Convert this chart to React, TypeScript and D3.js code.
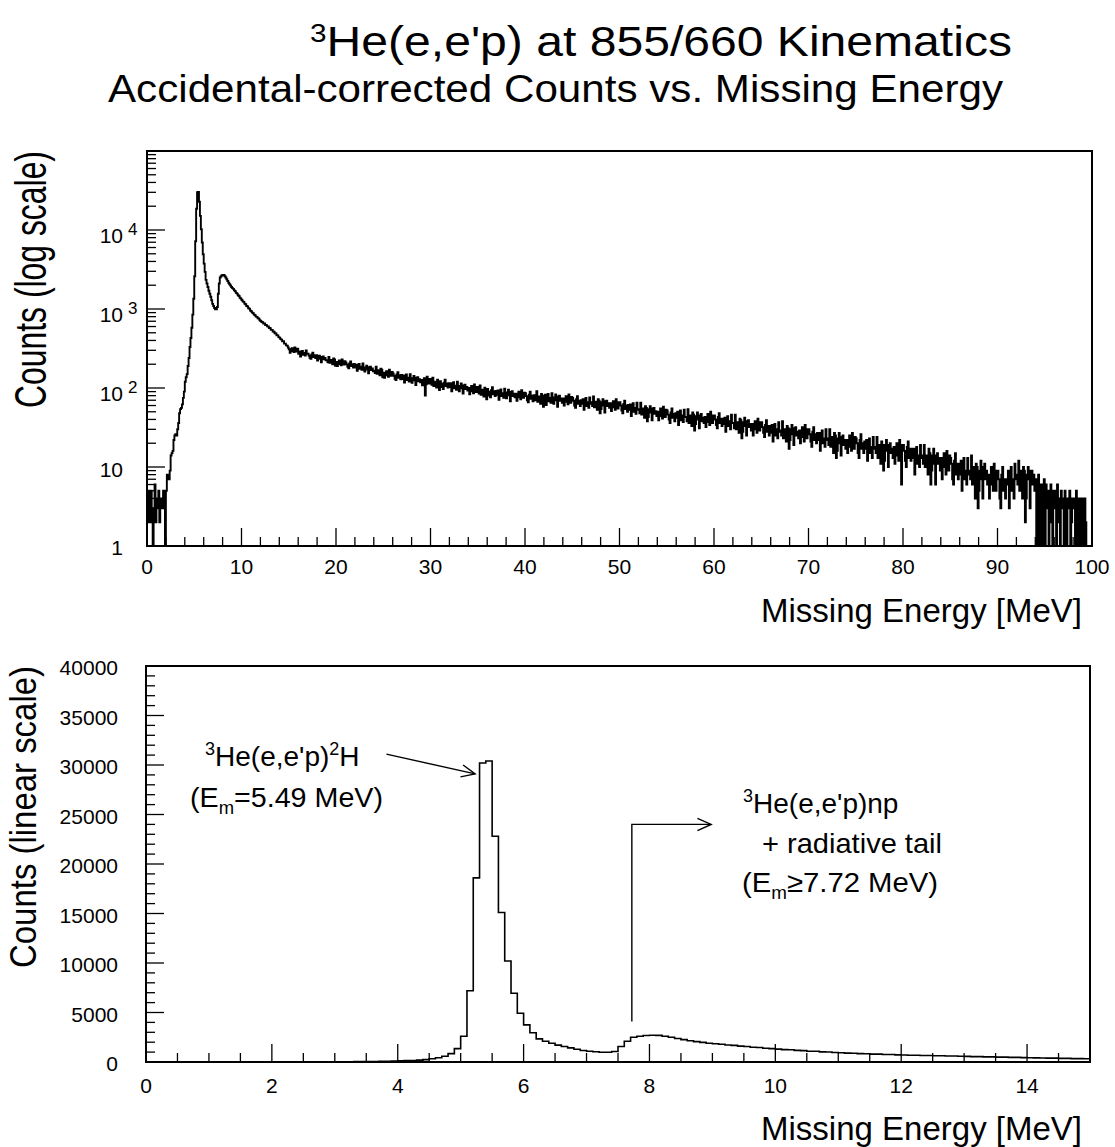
import React from 'react';
import * as d3 from 'd3';

const W = 1115;
const H = 1147;
const FONT = '"Liberation Sans", Arial, Helvetica, sans-serif';

// ---- data: accidental-corrected counts, 0.1 MeV bins ----
const binWidth = 0.1;

// 0-15 MeV (shared by both panels)
const lowCounts = [
  3, 5, 2, 4, 5, 2, 0, 3, 6, 2,
  4, 3, 5, 2, 4, 4, 3, 5, 4, 0,
  5, 8, 8, 7, 9, 14, 15, 16, 22, 25,
  26, 25, 30, 36, 48, 54, 56, 62, 75, 90,
  120, 137, 150, 190, 240, 330, 430, 580, 850, 1350,
  2600, 7200, 18600, 30200, 30400, 22800, 15100, 10200, 6950, 4930,
  3750, 2950, 2340, 2100, 1900, 1700, 1560, 1430, 1290, 1160,
  1090, 1030, 990, 990, 1060, 1560, 2100, 2500, 2600, 2680,
  2700, 2690, 2600, 2500, 2380, 2260, 2150, 2060, 1980, 1900,
  1840, 1800, 1720, 1680, 1600, 1565, 1490, 1460, 1390, 1355,
  1300, 1250, 1230, 1170, 1150, 1090, 1080, 1020, 1010, 955,
  935, 900, 885, 850, 835, 800, 795, 765, 755, 720,
  705, 685, 680, 655, 655, 628, 625, 603, 600, 575,
  570, 545, 545, 520, 515, 494, 490, 465, 464, 440,
  434, 415, 410, 390, 390, 365, 364, 346, 344, 326,
];

// 15-100 MeV tail (log panel only)
const tailStart = 15;
const tailCounts = [
  309, 280, 305, 319, 293, 285, 327, 300, 290, 314,
  270, 290, 250, 282, 295, 263, 277, 257, 298, 272,
  271, 258, 242, 234, 265, 279, 247, 260, 239, 261,
  222, 245, 257, 234, 212, 248, 251, 231, 240, 225,
  224, 212, 248, 208, 227, 217, 200, 236, 230, 191,
  214, 190, 211, 223, 201, 194, 230, 207, 198, 219,
  210, 199, 185, 178, 204, 217, 189, 200, 182, 202,
  181, 197, 165, 190, 201, 175, 186, 170, 204, 182,
  161, 181, 191, 171, 153, 183, 186, 169, 177, 163,
  166, 155, 186, 151, 168, 159, 145, 176, 171, 137,
  156, 135, 154, 163, 145, 139, 170, 150, 143, 160,
  153, 143, 131, 126, 148, 159, 135, 145, 129, 146,
  130, 144, 117, 139, 148, 126, 135, 121, 150, 132,
  116, 133, 142, 125, 109, 135, 137, 122, 129, 118,
  126, 108, 124, 133, 80, 111, 139, 121, 114, 130,
  118, 110, 135, 106, 120, 113, 101, 127, 122, 94,
  122, 113, 103, 97, 117, 127, 106, 114, 101, 115,
  103, 115, 91, 110, 118, 99, 107, 95, 120, 104,
  91, 106, 114, 99, 85, 108, 110, 97, 103, 93,
  100, 83, 98, 106, 91, 86, 111, 95, 89, 103,
  93, 85, 108, 82, 95, 88, 78, 101, 97, 72,
  97, 90, 80, 76, 94, 102, 83, 91, 79, 92,
  82, 93, 71, 89, 96, 79, 86, 75, 98, 83,
  74, 88, 95, 81, 68, 89, 91, 79, 85, 76,
  85, 69, 83, 90, 76, 72, 94, 80, 75, 87,
  86, 79, 70, 66, 82, 90, 73, 80, 68, 81,
  77, 70, 91, 67, 78, 72, 63, 84, 80, 58,
  71, 82, 61, 77, 84, 68, 75, 65, 86, 72,
  63, 76, 83, 70, 58, 78, 80, 69, 74, 65,
  74, 60, 73, 79, 67, 62, 83, 70, 65, 77,
  75, 69, 60, 56, 72, 79, 63, 69, 59, 70,
  63, 72, 53, 68, 75, 59, 66, 56, 76, 63,
  66, 59, 78, 57, 67, 62, 53, 72, 69, 48,
  54, 66, 72, 60, 49, 68, 69, 59, 64, 56,
  64, 51, 62, 68, 57, 53, 72, 60, 55, 66,
  66, 60, 52, 48, 63, 69, 54, 60, 50, 61,
  53, 62, 44, 58, 64, 50, 56, 47, 65, 54,
  53, 48, 65, 46, 55, 50, 42, 59, 56, 38,
  43, 54, 59, 49, 39, 55, 56, 47, 51, 44,
  50, 39, 49, 55, 44, 41, 58, 47, 43, 53,
  52, 46, 40, 36, 49, 55, 42, 47, 38, 48,
  42, 50, 34, 47, 52, 39, 45, 37, 53, 43,
  43, 38, 54, 36, 45, 40, 33, 49, 46, 29,
  35, 44, 49, 40, 31, 45, 47, 38, 42, 36,
  43, 32, 42, 47, 37, 34, 50, 40, 36, 45,
  45, 40, 34, 31, 43, 48, 36, 41, 33, 41,
  35, 42, 28, 39, 44, 33, 38, 30, 46, 36,
  36, 31, 46, 30, 37, 33, 27, 41, 39, 23,
  28, 37, 42, 33, 25, 38, 39, 32, 35, 29,
  35, 25, 34, 38, 30, 27, 41, 32, 29, 37,
  37, 32, 27, 24, 34, 39, 28, 33, 25, 33,
  27, 34, 21, 31, 35, 25, 30, 23, 37, 28,
  29, 25, 38, 23, 30, 26, 21, 33, 31, 17,
  22, 30, 34, 26, 19, 31, 32, 25, 28, 23,
  29, 20, 28, 32, 24, 21, 34, 26, 23, 30,
  30, 26, 21, 18, 28, 32, 22, 26, 20, 27,
  22, 27, 16, 25, 29, 20, 23, 18, 30, 22,
  23, 19, 30, 18, 24, 21, 15, 27, 25, 13,
  16, 23, 27, 20, 14, 24, 25, 19, 22, 17,
  22, 15, 21, 25, 18, 16, 27, 20, 17, 24,
  23, 20, 15, 13, 22, 26, 17, 20, 15, 21,
  17, 22, 12, 20, 23, 15, 18, 13, 24, 17,
  18, 15, 24, 13, 19, 16, 11, 21, 19, 9,
  12, 19, 22, 16, 10, 19, 20, 15, 17, 13,
  18, 11, 17, 20, 14, 12, 22, 16, 6, 19,
  19, 16, 12, 10, 18, 21, 13, 17, 12, 17,
  13, 17, 8, 15, 18, 11, 14, 10, 19, 13,
  14, 11, 19, 10, 14, 12, 8, 17, 15, 6,
  9, 14, 17, 11, 6, 14, 15, 11, 13, 9,
  13, 7, 12, 15, 10, 8, 16, 11, 9, 14,
  13, 11, 7, 6, 12, 15, 8, 11, 7, 11,
  8, 12, 5, 10, 13, 7, 9, 6, 13, 8,
  9, 7, 14, 6, 10, 8, 4, 11, 10, 3,
  5, 9, 12, 7, 4, 10, 11, 7, 9, 6,
  8, 4, 8, 10, 6, 5, 11, 7, 5, 9,
  9, 7, 4, 3, 8, 10, 5, 7, 4, 7,
  6, 9, 3, 8, 10, 5, 7, 4, 11, 7,
  8, 6, 12, 5, 9, 7, 4, 10, 9, 2,
  4, 8, 10, 7, 3, 9, 9, 6, 8, 5,
  7, 0, 5, 8, 0, 4, 6, 1, 5, 7,
  0, 6, 3, 5, 0, 2, 6, 4, 0, 5,
  5, 3, 0, 6, 4, 2, 0, 5, 3, 4,
  0, 5, 3, 0, 4, 3, 5, 0, 2, 4,
  3, 4, 0, 5, 2, 0, 4, 3, 0, 4,
  3, 0, 4, 2, 0, 0, 0, 0, 0, 0,
];

// ---- axis ticks ----
const topXMajor = d3.range(0, 101, 10);
const topXMinor = d3.range(0, 101, 2);
const topYDecades = [0, 1, 2, 3, 4];
const topYMinorMult = [2, 3, 4, 5, 6, 7, 8, 9];
const botXMajor = d3.range(0, 15, 2);
const botXMinor = d3.range(0, 15.001, 0.5);
const botYMajor = d3.range(0, 40001, 5000);
const botYMinor = d3.range(0, 40001, 1000);

// ---- annotation anchors (data coords) ----
const peakLabelArrow = { from: [3.82, 31100], to: [5.23, 29100] };
const npThreshold = 7.72;
const npArrow = { yLow: 4100, yHigh: 24000, xEnd: 8.98 };

// ---- geometry ----
const top = { l: 147, r: 1092, t: 151, b: 546 };
const bot = { l: 146, r: 1090, t: 666, b: 1062 };

const xTop = d3.scaleLinear().domain([0, 100]).range([top.l, top.r]);
const yTop = d3.scaleLog().domain([1, 1e5]).range([top.b, top.t]);
const xBot = d3.scaleLinear().domain([0, 15]).range([bot.l, bot.r]);
const yBot = d3.scaleLinear().domain([0, 40000]).range([bot.b, bot.t]);

type Pt = [number, number];

function binsToPoints(counts: number[], start: number, width: number): Pt[] {
  return counts.map((c, i) => [start + i * width, c] as Pt);
}

const lowPts = binsToPoints(lowCounts, 0, binWidth);
const tailPts = binsToPoints(tailCounts, tailStart, binWidth);
const topPts: Pt[] = [...lowPts, ...tailPts, [100, tailCounts[tailCounts.length - 1]]];
const botPts: Pt[] = [...lowPts, [15, lowCounts[lowCounts.length - 1]]];

const topLine = d3
  .line<Pt>()
  .x((d) => xTop(d[0]))
  .y((d) => yTop(Math.max(d[1], 1)))
  .curve(d3.curveStepAfter);

const botLine = d3
  .line<Pt>()
  .x((d) => xBot(d[0]))
  .y((d) => yBot(d[1]))
  .curve(d3.curveStepAfter);

function chevron(x1: number, y1: number, x2: number, y2: number, len = 15, ang = 0.42) {
  const a = Math.atan2(y2 - y1, x2 - x1);
  const p1 = [x2 - len * Math.cos(a - ang), y2 - len * Math.sin(a - ang)];
  const p2 = [x2 - len * Math.cos(a + ang), y2 - len * Math.sin(a + ang)];
  return `M${p1[0]},${p1[1]}L${x2},${y2}L${p2[0]},${p2[1]}`;
}

const MAJ = 18;
const MIN = 9;
const tickStyle = { stroke: '#000', strokeWidth: 1.3 };

export default function App() {
  const la = peakLabelArrow;
  const lx1 = xBot(la.from[0]);
  const ly1 = yBot(la.from[1]);
  const lx2 = xBot(la.to[0]);
  const ly2 = yBot(la.to[1]);
  const nx = xBot(npThreshold);
  const ny1 = yBot(npArrow.yLow);
  const ny2 = yBot(npArrow.yHigh);
  const nxe = xBot(npArrow.xEnd);

  return (
    <svg
      width={W}
      height={H}
      viewBox={`0 0 ${W} ${H}`}
      style={{ position: 'absolute', left: 0, top: 0, background: '#fff' }}
      fontFamily={FONT}
    >
      <rect x={0} y={0} width={W} height={H} fill="#fff" />
      {/* Titles */}
      <text x={310} y={56} fontSize={42} textLength={702} lengthAdjust="spacingAndGlyphs">
        <tspan fontSize={26} dy={-14}>3</tspan>
        <tspan dy={14}>He(e,e'p) at 855/660 Kinematics</tspan>
      </text>
      <text x={108} y={102} fontSize={38} textLength={895} lengthAdjust="spacingAndGlyphs">
        Accidental-corrected Counts vs. Missing Energy
      </text>

      {/* ---------- Top panel ---------- */}
      <g>
        {topXMinor.map((v) => (
          <line key={'txm' + v} x1={xTop(v)} x2={xTop(v)} y1={top.b} y2={top.b - (v % 10 === 0 ? MAJ : MIN)} {...tickStyle} />
        ))}
        {topYDecades.map((d) => (
          <g key={'tyd' + d}>
            <line x1={top.l} x2={top.l + MAJ} y1={yTop(Math.pow(10, d))} y2={yTop(Math.pow(10, d))} {...tickStyle} />
            {topYMinorMult.map((m) => (
              <line
                key={m}
                x1={top.l}
                x2={top.l + MIN}
                y1={yTop(m * Math.pow(10, d))}
                y2={yTop(m * Math.pow(10, d))}
                {...tickStyle}
              />
            ))}
          </g>
        ))}
        <path d={topLine(topPts) || ''} fill="none" stroke="#000" strokeWidth={1.9} />
        <rect x={top.l} y={top.t} width={top.r - top.l} height={top.b - top.t} fill="none" stroke="#000" strokeWidth={2} />
        {topXMajor.map((v) => (
          <text key={'txl' + v} x={xTop(v)} y={574} fontSize={21} textAnchor="middle">
            {v}
          </text>
        ))}
        {topYDecades.map((d) => {
          const ty = yTop(Math.pow(10, d));
          if (d === 0)
            return (
              <text key={'tyl' + d} x={123} y={ty + 9} fontSize={21} textAnchor="end">1</text>
            );
          if (d === 1)
            return (
              <text key={'tyl' + d} x={123} y={ty + 10} fontSize={21} textAnchor="end">10</text>
            );
          return (
            <g key={'tyl' + d}>
              <text x={123} y={ty + 13} fontSize={21} textAnchor="end">10</text>
              <text x={128} y={ty + 5} fontSize={17}>{d}</text>
            </g>
          );
        })}
        <text x={1082} y={622} fontSize={33} textAnchor="end">Missing Energy [MeV]</text>
        <text
          transform={`translate(46,${top.t}) rotate(-90)`}
          fontSize={44}
          textAnchor="end"
          textLength={257}
          lengthAdjust="spacingAndGlyphs"
        >
          Counts (log scale)
        </text>
      </g>

      {/* ---------- Bottom panel ---------- */}
      <g>
        {botXMinor.map((v) => (
          <line
            key={'bxm' + v}
            x1={xBot(v)}
            x2={xBot(v)}
            y1={bot.b}
            y2={bot.b - (Math.abs(v % 2) < 1e-6 ? MAJ : MIN)}
            {...tickStyle}
          />
        ))}
        {botYMinor.map((v) => (
          <line
            key={'bym' + v}
            x1={bot.l}
            x2={bot.l + (v % 5000 === 0 ? MAJ : MIN)}
            y1={yBot(v)}
            y2={yBot(v)}
            {...tickStyle}
          />
        ))}
        <path d={botLine(botPts) || ''} fill="none" stroke="#000" strokeWidth={1.6} />
        <rect x={bot.l} y={bot.t} width={bot.r - bot.l} height={bot.b - bot.t} fill="none" stroke="#000" strokeWidth={2} />
        {botXMajor.map((v) => (
          <text key={'bxl' + v} x={xBot(v)} y={1093} fontSize={21} textAnchor="middle">
            {v}
          </text>
        ))}
        {botYMajor.map((v) => (
          <text key={'byl' + v} x={118} y={yBot(v) + 9} fontSize={21} textAnchor="end">
            {v}
          </text>
        ))}
        <text x={1082} y={1140} fontSize={33} textAnchor="end">Missing Energy [MeV]</text>
        <text
          transform={`translate(36,${bot.t}) rotate(-90)`}
          fontSize={37}
          textAnchor="end"
          textLength={302}
          lengthAdjust="spacingAndGlyphs"
        >
          Counts (linear scale)
        </text>

        {/* annotation: 2H peak */}
        <text x={205} y={766} fontSize={28}>
          <tspan fontSize={18} dy={-11}>3</tspan>
          <tspan dy={11}>He(e,e'p)</tspan>
          <tspan fontSize={18} dy={-11}>2</tspan>
          <tspan dy={11}>H</tspan>
        </text>
        <text x={190} y={807} fontSize={28} textLength={193} lengthAdjust="spacingAndGlyphs">
          (E<tspan fontSize={18} dy={7}>m</tspan>
          <tspan dy={-7}>=5.49 MeV)</tspan>
        </text>
        <line x1={lx1} y1={ly1} x2={lx2} y2={ly2} stroke="#000" strokeWidth={1.4} />
        <path d={chevron(lx1, ly1, lx2, ly2)} fill="none" stroke="#000" strokeWidth={1.4} />

        {/* annotation: np continuum */}
        <path d={`M${nx},${ny1}V${ny2}H${nxe}`} fill="none" stroke="#000" strokeWidth={1.4} />
        <path d={chevron(nx, ny2, nxe, ny2)} fill="none" stroke="#000" strokeWidth={1.4} />
        <text x={743} y={813} fontSize={28}>
          <tspan fontSize={18} dy={-11}>3</tspan>
          <tspan dy={11}>He(e,e'p)np</tspan>
        </text>
        <text x={762} y={853} fontSize={28} textLength={180} lengthAdjust="spacingAndGlyphs">
          + radiative tail
        </text>
        <text x={742} y={892} fontSize={28} textLength={196} lengthAdjust="spacingAndGlyphs">
          (E<tspan fontSize={18} dy={7}>m</tspan>
          <tspan dy={-7}>≥7.72 MeV)</tspan>
        </text>
      </g>
    </svg>
  );
}
